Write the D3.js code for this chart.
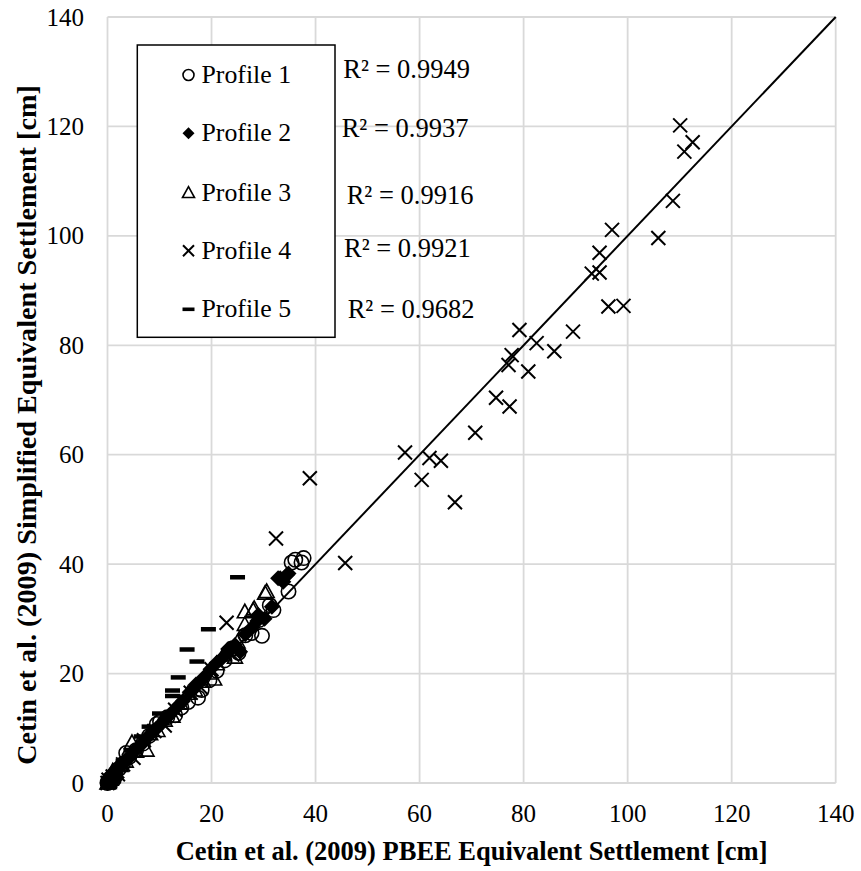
<!DOCTYPE html>
<html>
<head>
<meta charset="utf-8">
<script src="https://cdn.jsdelivr.net/npm/d3@7"></script>
<style>
  body { margin: 0; background: #fff; }
  svg text { font-family: "Liberation Serif", "Times New Roman", serif; fill: #000; }
</style>
</head>
<body>
<div id="chart"></div>
<script>
const width = 861;
const height = 871;

// Valeurs : [PBEE, simplifié] en cm
const profile1 = [
  [0, 0], [0.1, 0.3], [0.3, 0.4], [0.6, 0.2], [0.8, 1.0], [1.2, 0.6], [1.5, 1.8], [2.2, 2.6],
  [3.0, 3.5], [3.6, 5.5], [4.2, 4.8], [5.5, 6.0], [6.8, 7.2], [8.0, 8.6], [9.5, 10.8], [10.1, 11.2],
  [11.5, 12.0], [13.0, 12.4], [14.2, 13.8], [15.5, 14.8], [17.4, 15.6], [18.1, 17.0], [19.6, 18.8],
  [21.0, 20.5], [22.5, 22.4], [24.0, 24.6], [25.2, 23.8], [26.5, 27.0], [27.7, 27.4], [29.7, 26.9],
  [29.2, 29.8], [31.2, 32.5], [31.9, 31.6], [34.8, 35.0], [35.4, 40.3], [36.1, 40.8], [37.7, 41.1],
  [37.3, 40.3]
];
const profile2 = [
  [0, 0], [0.1, 0.1], [0.2, 0.5], [0.4, 0.2], [0.5, 0.6], [0.7, 1.6], [0.9, 1.0], [1.2, 1.5],
  [1.6, 2.0], [1.8, 1.0], [2.0, 2.4], [2.4, 3.0], [2.8, 3.3], [3.5, 4.2], [4.0, 4.5], [4.5, 5.0],
  [5.0, 5.8], [5.6, 6.2], [6.3, 6.9], [6.9, 7.4], [7.5, 8.2], [8.2, 8.8], [8.8, 9.5], [9.4, 9.9],
  [10.5, 11.0], [11.2, 11.8], [11.8, 12.3], [13.0, 13.5], [13.8, 14.3], [14.5, 15.0], [15.8, 16.6],
  [16.4, 17.0], [17.0, 18.0], [18.5, 19.3], [19.8, 20.8], [21.0, 22.0], [22.2, 23.0], [23.2, 24.5],
  [24.5, 25.2], [25.5, 24.0], [26.5, 27.2], [27.8, 28.4], [28.8, 29.6], [29.0, 30.7], [30.2, 30.0],
  [31.6, 32.2], [32.8, 37.4], [33.2, 37.4], [33.8, 36.8], [34.5, 38.0], [34.8, 38.3]
];
const profile3 = [
  [0, 0], [0.2, 0.1], [0.6, 0.7], [1.0, 2.2], [1.4, 1.8], [2.5, 3.2], [3.5, 4.0], [4.7, 7.4],
  [5.5, 5.8], [7.5, 6.0], [8.2, 9.0], [9.6, 9.6], [11.0, 11.5], [12.5, 12.2], [14.0, 14.6],
  [15.5, 16.4], [16.8, 17.0], [18.4, 18.6], [19.7, 20.1], [20.5, 19.0], [21.0, 21.8], [22.3, 23.4],
  [23.6, 24.4], [24.5, 23.0], [25.0, 25.8], [26.4, 31.3], [26.4, 29.0], [28.0, 31.6], [28.2, 31.9],
  [30.3, 34.7], [30.6, 35.0]
];
const profile4 = [
  [0, 0], [0.2, 0.6], [0.5, 0.3], [1.0, 1.2], [2.0, 1.6], [3.0, 3.4], [5.0, 4.6], [7.0, 7.8],
  [9.0, 9.5], [11.0, 10.5], [13.0, 13.4], [16.0, 16.5], [18.0, 17.4], [20.0, 20.8], [22.9, 29.3],
  [24.0, 23.5], [32.4, 44.7], [38.9, 55.7], [45.7, 40.2], [57.2, 60.4], [60.4, 55.4], [61.9, 59.4],
  [64.1, 58.9], [66.8, 51.3], [70.7, 64.0], [74.7, 70.4], [77.3, 68.8], [77.1, 76.4], [77.7, 78.2],
  [79.2, 82.8], [80.9, 75.2], [82.5, 80.4], [85.9, 78.9], [89.5, 82.5], [93.1, 93.1], [94.6, 93.3],
  [94.6, 96.9], [96.3, 87.1], [97.0, 101.1], [99.2, 87.2], [105.9, 99.6], [108.7, 106.4],
  [110.1, 120.2], [110.9, 115.4], [112.5, 117.1]
];
const profile5 = [
  [0, 0], [0.2, 0.4], [0.5, 0.8], [1.5, 2.0], [3.0, 4.0], [4.5, 6.0], [6.5, 8.5], [8.0, 10.3],
  [10.0, 12.7], [12.5, 15.9], [12.5, 16.9], [13.6, 19.3], [15.3, 24.4], [17.2, 22.2], [19.4, 28.1],
  [25.0, 37.6]
];

const seriesNames = ["Profile 1", "Profile 2", "Profile 3", "Profile 4", "Profile 5"];
const rSquared = ["0.9949", "0.9937", "0.9916", "0.9921", "0.9682"];
const trendX = [0, 140];
const trendY = [0, 140];
const axisTicks = [0, 20, 40, 60, 80, 100, 120, 140];

const svg = d3.select("#chart")
  .append("svg")
  .attr("width", width)
  .attr("height", height);

const x = d3.scaleLinear().domain([0, 140]).range([107.5, 835.7]);
const y = d3.scaleLinear().domain([0, 140]).range([783, 17]);

// Grille
svg.append("g").selectAll("line")
  .data(axisTicks)
  .join("line")
  .attr("x1", d => x(d)).attr("x2", d => x(d))
  .attr("y1", y(0)).attr("y2", y(140))
  .attr("stroke", "#d9d9d9").attr("stroke-width", 1.8);
svg.append("g").selectAll("line")
  .data(axisTicks)
  .join("line")
  .attr("x1", x(0)).attr("x2", x(140))
  .attr("y1", d => y(d)).attr("y2", d => y(d))
  .attr("stroke", "#d9d9d9").attr("stroke-width", 1.8);

// Étiquettes des axes
svg.append("g").selectAll("text")
  .data(axisTicks)
  .join("text")
  .attr("x", 84)
  .attr("y", d => y(d) + 8.5)
  .attr("text-anchor", "end")
  .style("font-size", "25px")
  .text(d => d);
svg.append("g").selectAll("text")
  .data(axisTicks)
  .join("text")
  .attr("x", d => x(d))
  .attr("y", 822)
  .attr("text-anchor", "middle")
  .style("font-size", "25px")
  .text(d => d);

svg.append("text")
  .attr("x", (x(0) + x(140)) / 2)
  .attr("y", 860)
  .attr("text-anchor", "middle")
  .style("font-size", "26.5px")
  .style("font-weight", "bold")
  .text("Cetin et al. (2009) PBEE Equivalent Settlement [cm]");
svg.append("text")
  .attr("transform", "translate(36, 425) rotate(-90)")
  .attr("text-anchor", "middle")
  .style("font-size", "28.2px")
  .style("font-weight", "bold")
  .text("Cetin et al. (2009) Simplified Equivalent Settlement [cm]");

// Ligne de tendance
svg.append("line")
  .attr("x1", x(trendX[0])).attr("y1", y(trendY[0]))
  .attr("x2", x(trendX[1])).attr("y2", y(trendY[1]))
  .attr("stroke", "#000").attr("stroke-width", 2);

// Formes des marqueurs
const shapes = {
  circle: s => `M${s},0A${s},${s} 0 1,1 ${-s},0A${s},${s} 0 1,1 ${s},0Z`,
  diamond: s => `M0,${-s}L${s},0L0,${s}L${-s},0Z`,
  triangle: s => `M0,${-s}L${s},${s * 0.8}L${-s},${s * 0.8}Z`,
  cross: s => `M${-s},${-s}L${s},${s}M${-s},${s}L${s},${-s}`,
  dash: s => `M${-s},${-s * 0.3}h${2 * s}v${s * 0.6}h${-2 * s}Z`
};
const styles = [
  { shape: "circle", size: 7.2, legend: 5.5, fill: "none", stroke: "#000", sw: 1.6 },
  { shape: "diamond", size: 8, legend: 6, fill: "#000", stroke: "none", sw: 0 },
  { shape: "triangle", size: 7.5, legend: 6, fill: "none", stroke: "#000", sw: 1.6 },
  { shape: "cross", size: 7, legend: 5.5, fill: "none", stroke: "#000", sw: 2 },
  { shape: "dash", size: 7.5, legend: 6, fill: "#000", stroke: "none", sw: 0 }
];
const allSeries = [profile1, profile2, profile3, profile4, profile5];

allSeries.forEach((data, i) => {
  const st = styles[i];
  svg.append("g").selectAll("path")
    .data(data)
    .join("path")
    .attr("transform", d => `translate(${x(d[0])},${y(d[1])})`)
    .attr("d", shapes[st.shape](st.size))
    .attr("fill", st.fill)
    .attr("stroke", st.stroke)
    .attr("stroke-width", st.sw);
});

// Légende
svg.append("rect")
  .attr("x", 137.3).attr("y", 45)
  .attr("width", 197.7).attr("height", 292.3)
  .attr("fill", "#fff")
  .attr("stroke", "#000").attr("stroke-width", 1.5);

const legendY = [75, 133.3, 192.7, 250.7, 309.3];
seriesNames.forEach((name, i) => {
  const st = styles[i];
  svg.append("path")
    .attr("transform", `translate(188.5,${legendY[i]})`)
    .attr("d", shapes[st.shape](st.legend))
    .attr("fill", st.fill)
    .attr("stroke", st.stroke)
    .attr("stroke-width", st.sw);
  svg.append("text")
    .attr("x", 201.5)
    .attr("y", legendY[i] + 8)
    .style("font-size", "25.8px")
    .text(name);
});

// Coefficients R²
const r2Pos = [[343.3, 78.3], [341.7, 137.3], [346.7, 204], [344, 257.3], [347.7, 318.3]];
rSquared.forEach((v, i) => {
  svg.append("text")
    .attr("x", r2Pos[i][0])
    .attr("y", r2Pos[i][1])
    .style("font-size", "26.5px")
    .text(`R² = ${v}`);
});
</script>
</body>
</html>
